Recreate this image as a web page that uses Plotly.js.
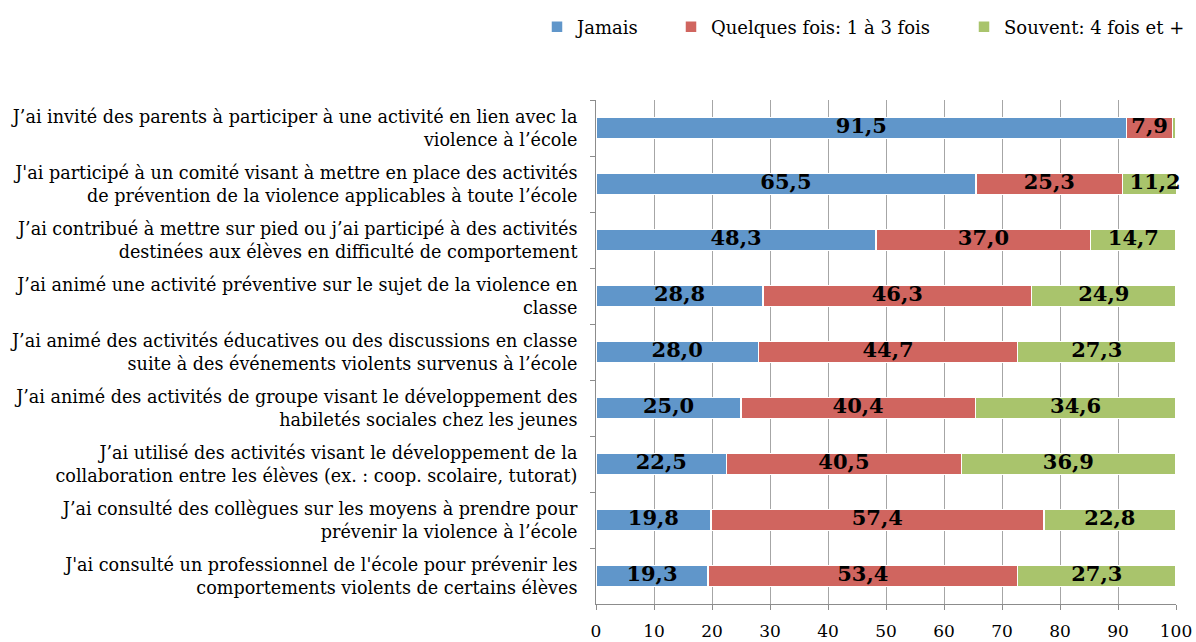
<!DOCTYPE html>
<html>
<head>
<meta charset="utf-8">
<script src="https://cdn.plot.ly/plotly-3.0.1.min.js"></script>
<style>html,body{margin:0;padding:0;background:#fff;}#chart{width:1196px;height:642px;}</style>
</head>
<body>
<div id="chart"></div>
<script>
const categories = [
  "J’ai invité des parents à participer à une activité en lien avec la<br>violence à l’école",
  "J'ai participé à un comité visant à mettre en place des activités<br>de prévention de la violence applicables à toute l’école",
  "J’ai contribué à mettre sur pied ou j’ai participé à des activités<br>destinées aux élèves en difficulté de comportement",
  "J’ai animé une activité préventive sur le sujet de la violence en<br>classe",
  "J’ai animé des activités éducatives ou des discussions en classe<br>suite à des événements violents survenus à l’école",
  "J’ai animé des activités de groupe visant le développement des<br>habiletés sociales chez les jeunes",
  "J’ai utilisé des activités visant le développement de la<br>collaboration entre les élèves (ex. : coop. scolaire, tutorat)",
  "J’ai consulté des collègues sur les moyens à prendre pour<br>prévenir la violence à l’école",
  "J'ai consulté un professionnel de l'école pour prévenir les<br>comportements violents de certains élèves"
];
const jamais   = [91.5, 65.5, 48.3, 28.8, 28.0, 25.0, 22.5, 19.8, 19.3];
const quelques = [7.9, 25.3, 37.0, 46.3, 44.7, 40.4, 40.5, 57.4, 53.4];
const souvent  = [0.6, 11.2, 14.7, 24.9, 27.3, 34.6, 36.9, 22.8, 27.3];
const souventLabelShown = [false, true, true, true, true, true, true, true, true];
const seriesNames = ["Jamais", "Quelques fois: 1 à 3 fois", "Souvent: 4 fois et +"];
const xTicks = [0, 10, 20, 30, 40, 50, 60, 70, 80, 90, 100];

const fmt = v => v.toFixed(1).replace('.', ',');
const colors = ['rgb(96,150,202)', 'rgb(208,101,95)', 'rgb(169,196,108)'];
const FONT = 'DejaVu Serif, Liberation Serif, serif';

function barTrace(vals, name, color, legendId) {
  return {
    type: 'bar', orientation: 'h', name: name, legend: legendId,
    x: vals, y: categories,
    marker: {color: color, line: {color: '#ffffff', width: 1.5}},
    width: 0.38, hoverinfo: 'skip'
  };
}

// label trace: midpoint of each stacked segment, computed from the series
function labelTrace(vals, offsets, shown) {
  return {
    type: 'scatter', mode: 'text', showlegend: false, hoverinfo: 'skip',
    x: vals.map((v, i) => offsets[i] + v / 2), y: categories,
    text: vals.map((v, i) => (shown && !shown[i]) ? '' : fmt(v)),
    textposition: 'middle center', cliponaxis: false,
    textfont: {family: FONT, size: 21, color: '#000', weight: 'bold'}
  };
}
const zeros = jamais.map(() => 0);
const off2 = jamais.slice();
const off3 = jamais.map((v, i) => v + quelques[i]);

const data = [
  barTrace(jamais, seriesNames[0], colors[0], 'legend'),
  barTrace(quelques, seriesNames[1], colors[1], 'legend2'),
  barTrace(souvent, seriesNames[2], colors[2], 'legend3'),
  labelTrace(jamais, zeros),
  labelTrace(quelques, off2),
  labelTrace(souvent, off3, souventLabelShown)
];

function legendAt(xpx) {
  return {orientation: 'h', x: (xpx - 596) / 580, xanchor: 'left',
    y: 1 + (100 - 27) / 504, yanchor: 'middle',
    font: {family: FONT, size: 18, color: '#000'}, itemwidth: 30,
    bgcolor: 'rgba(0,0,0,0)'};
}

const layout = {
  width: 1196, height: 642,
  margin: {l: 596, r: 20, t: 100, b: 38, autoexpand: false},
  paper_bgcolor: '#fff', plot_bgcolor: '#fff',
  barmode: 'stack', bargap: 0.62,
  showlegend: true,
  legend: legendAt(537),
  legend2: legendAt(671),
  legend3: legendAt(964),
  xaxis: {range: [0, 100], tickvals: xTicks, ticktext: xTicks.map(String),
    showgrid: true, gridcolor: '#a6a6a6', gridwidth: 1,
    showline: true, linecolor: '#8c8c8c', linewidth: 1,
    ticks: 'outside', ticklen: 5, tickcolor: '#8c8c8c', automargin: false,
    ticklabelstandoff: 7,
    tickfont: {family: FONT, size: 17, color: '#000'}, zeroline: false, fixedrange: true},
  yaxis: {autorange: 'reversed', type: 'category', automargin: false,
    showline: true, linecolor: '#8c8c8c', linewidth: 1,
    ticks: 'outside', ticklen: 5, tickcolor: '#8c8c8c', tickson: 'boundaries',
    ticklabelstandoff: 14,
    tickfont: {family: FONT, size: 17.6, color: '#000'}, showgrid: false, fixedrange: true}
};

Plotly.newPlot('chart', data, layout, {displayModeBar: false, staticPlot: true});
</script>
</body>
</html>
